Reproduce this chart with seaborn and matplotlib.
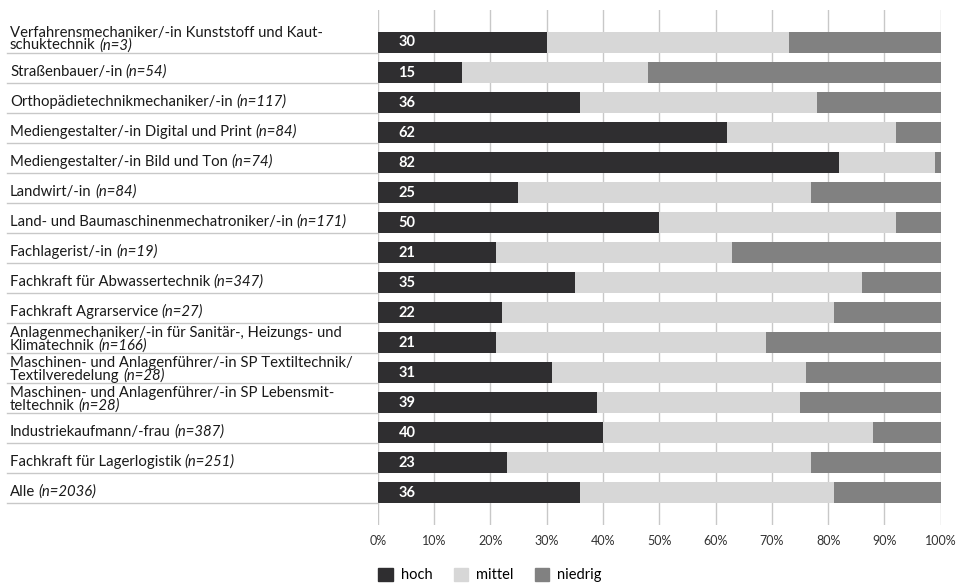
import matplotlib
matplotlib.use('Agg')
import pandas as pd
import matplotlib.pyplot as plt
import matplotlib.transforms as mtransforms
from matplotlib.patches import Patch
import seaborn as sns

# Berufe (Zeilen der Beschriftung), Stichprobengroessen und Anteile in %
berufe = [
    ['Verfahrensmechaniker/-in Kunststoff und Kaut-', 'schuktechnik'],
    ['Straßenbauer/-in'],
    ['Orthopädietechnikmechaniker/-in'],
    ['Mediengestalter/-in Digital und Print'],
    ['Mediengestalter/-in Bild und Ton'],
    ['Landwirt/-in'],
    ['Land- und Baumaschinenmechatroniker/-in'],
    ['Fachlagerist/-in'],
    ['Fachkraft für Abwassertechnik'],
    ['Fachkraft Agrarservice'],
    ['Anlagenmechaniker/-in für Sanitär-, Heizungs- und', 'Klimatechnik'],
    ['Maschinen- und Anlagenführer/-in SP Textiltechnik/', 'Textilveredelung'],
    ['Maschinen- und Anlagenführer/-in SP Lebensmit-', 'teltechnik'],
    ['Industriekaufmann/-frau'],
    ['Fachkraft für Lagerlogistik'],
    ['Alle'],
]
n_werte = [3, 54, 117, 84, 74, 84, 171, 19, 347, 27, 166, 28, 28, 387, 251, 2036]
hoch = [30, 15, 36, 62, 82, 25, 50, 21, 35, 22, 21, 31, 39, 40, 23, 36]
mittel = [43, 33, 42, 30, 17, 52, 42, 42, 51, 59, 48, 45, 36, 48, 54, 45]
niedrig = [27, 52, 22, 8, 1, 23, 8, 37, 14, 19, 31, 24, 25, 12, 23, 19]

farben = {'hoch': '#2f2e30', 'mittel': '#d7d7d7', 'niedrig': '#818181'}

plt.rcParams['font.family'] = ['Lato', 'DejaVu Sans']

dados = pd.DataFrame({
    'Beruf': [' '.join(b) for b in berufe],
    'hoch': hoch,
    'mittel': mittel,
    'niedrig': niedrig,
})
# gestapelt: von hinten nach vorne
dados['bis_mittel'] = dados['hoch'] + dados['mittel']
dados['bis_niedrig'] = dados['bis_mittel'] + dados['niedrig']

fig = plt.figure(figsize=(9.61, 5.83), dpi=100)
ax = fig.add_axes([377.7 / 961, 1 - 525 / 583, 563 / 961, 515 / 583])

for spalte, farbe in [('bis_niedrig', farben['niedrig']),
                      ('bis_mittel', farben['mittel']),
                      ('hoch', farben['hoch'])]:
    sns.barplot(data=dados, y='Beruf', x=spalte, color=farbe, saturation=1,
                width=0.72, errorbar=None, orient='h', ax=ax, zorder=2)

ax.set_xlim(0, 100)
ax.set_ylim(16.08, -1.083)
ax.set_xticks(range(0, 101, 10))
ax.set_xticklabels([f'{v}%' for v in range(0, 101, 10)], fontsize=9, color='#333333')
ax.tick_params(axis='x', length=0, pad=7)
ax.set_yticks([])
ax.set_xlabel('')
ax.set_ylabel('')
for s in ax.spines.values():
    s.set_visible(False)
ax.set_axisbelow(True)
ax.xaxis.grid(True, color='#c8c8c8', linewidth=1)

trans = mtransforms.blended_transform_factory(ax.transAxes, ax.transData)
x_text = (10 - 377.7) / 563
x_linie = (7 - 377.7) / 563

for i, zeilen in enumerate(berufe):
    # Trennlinie links
    ax.plot([x_linie, 0], [i + 0.36, i + 0.36], transform=trans, color='#c8c8c8',
            linewidth=1, clip_on=False)
    if len(zeilen) == 1:
        ys = [i - 0.02]
    else:
        ys = [i - 0.33, i + 0.1]
    t = None
    for zeile, y in zip(zeilen, ys):
        t = ax.text(x_text, y, zeile, transform=trans, ha='left', va='center',
                    fontsize=10.7, color='#1a1a1a')
    ax.annotate(f'(n={n_werte[i]})', xy=(1, 0), xycoords=t, xytext=(2.5, 0),
                textcoords='offset points', ha='left', va='bottom',
                fontsize=10.7, fontstyle='italic', color='#1a1a1a')
    # Wert in der dunklen Leiste
    ax.text(5.2, i, str(hoch[i]), ha='center', va='center', color='white',
            fontsize=10.5, fontweight='bold', zorder=5)

handles = [Patch(color=farben[k]) for k in ['hoch', 'mittel', 'niedrig']]
fig.legend(handles, ['hoch', 'mittel', 'niedrig'], ncol=3, loc='center',
           bbox_to_anchor=(490 / 961, 1 - 575 / 583), frameon=False,
           fontsize=10.5, handlelength=1.0, handleheight=1.0,
           handletextpad=0.55, columnspacing=1.45)

fig.savefig('out.png', dpi=100, facecolor='white')
